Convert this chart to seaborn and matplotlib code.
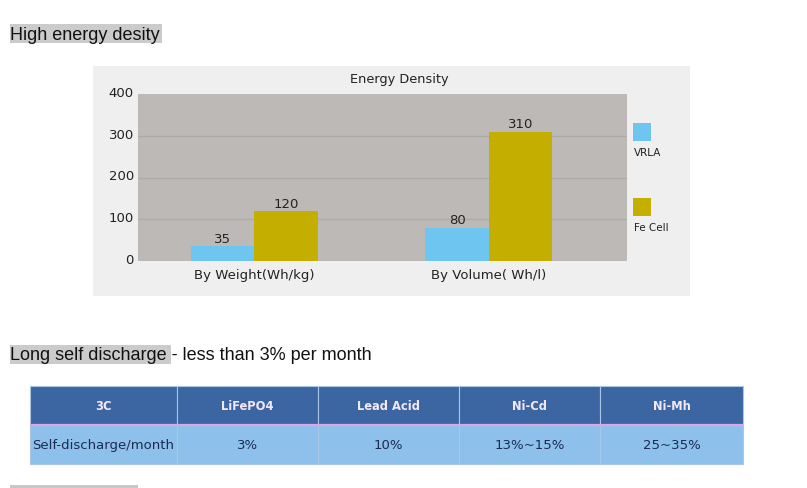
import matplotlib
matplotlib.use("Agg")
import matplotlib.pyplot as plt
from matplotlib.patches import Rectangle
from matplotlib.transforms import ScaledTranslation
import seaborn as sns
import pandas as pd

# ---- data ----
categories = ["By Weight(Wh/kg)", "By Volume( Wh/l)"]
series = ["VRLA", "Fe Cell"]
vrla_values = [35, 80]
fe_values = [120, 310]
y_ticks = [0, 100, 200, 300, 400]

table_headers = ["3C", "LiFePO4", "Lead Acid", "Ni-Cd", "Ni-Mh"]
table_row = ["Self-discharge/month", "3%", "10%", "13%~15%", "25~35%"]

heading1 = "High energy desity"
heading2 = "Long self discharge - less than 3% per month"
chart_title = "Energy Density"

colors = ["#6ec5f0", "#c4ae00"]

sns.set_theme(style="white")
plt.rcParams['font.family'] = ['DejaVu Sans']

W, H = 807, 489
fig = plt.figure(figsize=(W / 100, H / 100), dpi=100)
fig.patch.set_facecolor("white")


def box(x0, y0, x1, y1):
    return [x0 / W, 1 - y1 / H, (x1 - x0) / W, (y1 - y0) / H]


def fig_rect(x0, y0, x1, y1, color, z=0):
    fig.add_artist(Rectangle((x0 / W, 1 - y1 / H), (x1 - x0) / W, (y1 - y0) / H,
                             transform=fig.transFigure, color=color, zorder=z, lw=0))


def fx(x):
    return x / W


def fy(y):
    return 1 - y / H


# headings
fig_rect(10, 25, 162, 44, "#cbcbcb")
fig.text(fx(10), fy(35), heading1, fontsize=13, family="Liberation Sans",
         color="#111111", va="center", ha="left")
fig_rect(10, 346, 171, 365, "#cbcbcb")
fig.text(fx(10), fy(356), heading2, fontsize=13, family="Liberation Sans",
         color="#111111", va="center", ha="left")

# chart panel
fig_rect(93, 67, 690, 297, "#efefef")
fig.text(fx(399), fy(79), chart_title, fontsize=9.3, color="#222222",
         ha="center", va="center")

# bar chart
df = pd.DataFrame({
    "Metric": categories * 2,
    "Battery": [series[0]] * 2 + [series[1]] * 2,
    "Value": vrla_values + fe_values,
})
ax = fig.add_axes(box(138, 95, 627, 262))
ax.set_facecolor("#bdb9b6")
sns.barplot(data=df, x="Metric", y="Value", hue="Battery", palette=colors,
            width=0.54, gap=0, saturation=1, legend=False, ax=ax,
            edgecolor="none", linewidth=0, zorder=3)
ax.set_ylim(0, 400)
ax.set_xlim(-0.496, 1.59)
ax.set_yticks(y_ticks)
ax.set_yticklabels([str(v) for v in y_ticks])
for y in y_ticks[1:-1]:
    ax.axhline(y, color="#aeaaa7", lw=1, zorder=1)
for s in ax.spines.values():
    s.set_visible(False)
ax.tick_params(axis="both", length=0, labelsize=9.5, colors="#222222")
ax.tick_params(axis="y", pad=3)
ax.tick_params(axis="x", pad=5)
shift = ScaledTranslation(0, 3 / 100, fig.dpi_scale_trans)
for lab in ax.get_yticklabels():
    lab.set_transform(lab.get_transform() + shift)
ax.set_xlabel("")
ax.set_ylabel("")
for cont in ax.containers:
    ax.bar_label(cont, padding=1, fontsize=9.5, color="#222222")

# legend
for i, (name, col) in enumerate(zip(series, colors)):
    top = 124 + i * 75
    fig_rect(633, top, 651, top + 18, col, z=2)
    fig.text(fx(634), fy(top + 29), name, fontsize=7.5, color="#222222",
             ha="left", va="center")

# table
tax = fig.add_axes(box(30, 387, 743, 465))
tax.set_axis_off()
widths = [147, 141, 141, 141, 143]
tot = sum(widths)
tbl = tax.table(cellText=[table_row], colLabels=table_headers,
                colWidths=[w / tot for w in widths], bbox=[0, 0, 1, 1],
                cellLoc="center")
tbl.auto_set_font_size(False)
for (r, c), cell in tbl.get_celld().items():
    cell.set_edgecolor("#a9c6e6")
    cell.set_linewidth(0.8)
    if r == 0:
        cell.set_facecolor("#3b66a2")
        cell.get_text().set_color("#f4e8f8")
        cell.get_text().set_fontweight("bold")
        cell.get_text().set_fontsize(8.3)
    else:
        cell.set_facecolor("#8dc0ea")
        cell.get_text().set_color("#1c2b4f")
        cell.get_text().set_fontsize(9.5)
tax.axhline(0.5, color="#d8a8e8", lw=1.6, zorder=5)

# bottom rule
fig_rect(10, 486, 138, 489, "#c8c8c8")

fig.savefig("out.png", dpi=100, facecolor="white")
